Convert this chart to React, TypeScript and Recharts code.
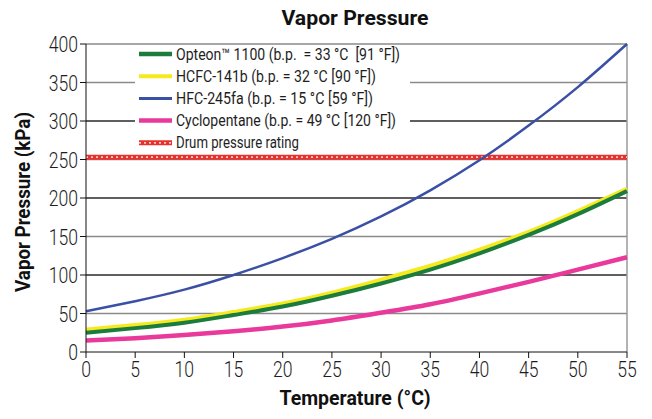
import React from 'react';
import { LineChart, Line, XAxis, YAxis, ReferenceLine } from 'recharts';

const temps = [0, 5, 10, 15, 20, 25, 30, 35, 40, 45, 50, 55];
const opteon = [25, 31, 38, 48, 59, 73, 89, 107, 128, 152, 179, 209];
const hcfc = [29, 35, 42, 52, 63, 77, 94, 112, 133, 156, 183, 212];
const hfc = [53, 66, 81, 100, 122, 147, 176, 210, 249, 294, 344, 400];
const cyclo = [15, 18, 22, 27, 33, 41, 51, 62, 76, 91, 107, 123];
const drumRating = 253;
const xTicks = [0, 5, 10, 15, 20, 25, 30, 35, 40, 45, 50, 55];
const yTicks = [0, 50, 100, 150, 200, 250, 300, 350, 400];
const gridValues = [50, 100, 150, 200, 250, 300, 350, 400];

const legendItems = [
  { label: 'Opteon\u2122 1100 (b.p. \u00A0= 33 \u00B0C \u00A0[91 \u00B0F])', color: '#1b7c3d', w: 4.5, len: 224 },
  { label: 'HCFC-141b (b.p. = 32 \u00B0C [90 \u00B0F])', color: '#f5ea1e', w: 4, len: 200 },
  { label: 'HFC-245fa (b.p. = 15 \u00B0C [59 \u00B0F])', color: '#3a50a5', w: 3, len: 197 },
  { label: 'Cyclopentane (b.p. = 49 \u00B0C [120 \u00B0F])', color: '#e9399b', w: 4.5, len: 220 },
];

const data = temps.map((t, i) => ({ t, opteon: opteon[i], hcfc: hcfc[i], hfc: hfc[i], cyclo: cyclo[i] }));

const FONT = 'Roboto, "Liberation Sans", sans-serif';
const TEXT = '#1e1e1e';

const XTick = (props: any) => {
  const { x, y, payload } = props;
  return (
    <g transform={`translate(${x},${y}) scale(0.8,1)`}>
      <text x={0} y={0} dy={17} textAnchor="middle" fontFamily={FONT} fontWeight={300} fontSize={22} fill={TEXT}>{payload.value}</text>
    </g>
  );
};

const YTick = (props: any) => {
  const { x, y, payload } = props;
  return (
    <g transform={`translate(${x},${y}) scale(0.8,1)`}>
      <text x={0} y={0} dy={8} textAnchor="end" fontFamily={FONT} fontWeight={300} fontSize={22} fill={TEXT}>{payload.value}</text>
    </g>
  );
};

const LegendOverlay = () => (
  <svg width={652} height={419} style={{ position: 'absolute', left: 0, top: 0, pointerEvents: 'none' }}>
    <rect x={135} y={46} width={275} height={102} fill="#fff" />
    {legendItems.map((it, i) => (
      <g key={it.label}>
        <line x1={139} x2={172} y1={54 + i * 22.2} y2={54 + i * 22.2} stroke={it.color} strokeWidth={it.w} />
        <text x={176} y={54 + i * 22.2 + 5.5} fontFamily={FONT} fontSize={16} fill={TEXT} textLength={it.len} lengthAdjust="spacingAndGlyphs">{it.label}</text>
      </g>
    ))}
    <line x1={139} x2={172} y1={142.8} y2={142.8} stroke="#e8302c" strokeWidth={5} />
    <line x1={139} x2={172} y1={142.8} y2={142.8} stroke="#fff" strokeWidth={1.2} strokeDasharray="2 3" />
    <text x={176} y={148.3} fontFamily={FONT} fontSize={16} fill={TEXT} textLength={123} lengthAdjust="spacingAndGlyphs">Drum pressure rating</text>
  </svg>
);

export default function App() {
  return (
    <div style={{ position: 'absolute', left: 0, top: 0, width: 652, height: 419, background: '#fff' }}>
      <LineChart width={652} height={419} data={data} margin={{ top: 44, right: 25, bottom: 37, left: 0 }}>
        <text x={355} y={25} textAnchor="middle" fontFamily={FONT} fontWeight="bold" fontSize={20} fill="#111" textLength={147} lengthAdjust="spacingAndGlyphs">Vapor Pressure</text>
        <text x={355} y={405} textAnchor="middle" fontFamily={FONT} fontWeight="bold" fontSize={21} fill="#111" textLength={151} lengthAdjust="spacingAndGlyphs">Temperature (°C)</text>
        <text x={30} y={202} textAnchor="middle" transform="rotate(-90 30 202)" fontFamily={FONT} fontWeight="bold" fontSize={21} fill="#111" textLength={180} lengthAdjust="spacingAndGlyphs">Vapor Pressure (kPa)</text>
        {gridValues.map((v) => (
          <ReferenceLine key={v} y={v} stroke={v % 100 === 0 && v !== 400 ? '#2a2a2a' : '#8a8a8a'} strokeWidth={1.4} />
        ))}
        <ReferenceLine x={55} stroke="#9a9a9a" strokeWidth={1.5} />
        <XAxis
          dataKey="t"
          type="number"
          domain={[0, 55]}
          ticks={xTicks}
          tickSize={6}
          height={30}
          stroke="#111"
          tick={<XTick />}
        />
        <YAxis
          type="number"
          domain={[0, 400]}
          ticks={yTicks}
          width={86}
          tickSize={6}
          stroke="#111"
          tick={<YTick />}
        />
        <ReferenceLine y={drumRating} stroke="#e8302c" strokeWidth={5} />
        <ReferenceLine y={drumRating} stroke="#fff" strokeWidth={1.2} strokeDasharray="2 3" />
        <Line type="natural" dataKey="cyclo" stroke="#e9399b" strokeWidth={4.5} dot={false} isAnimationActive={false} />
        <Line type="natural" dataKey="hcfc" stroke="#f5ea1e" strokeWidth={4} dot={false} isAnimationActive={false} />
        <Line type="natural" dataKey="opteon" stroke="#1b7c3d" strokeWidth={4} dot={false} isAnimationActive={false} />
        <Line type="natural" dataKey="hfc" stroke="#3a50a5" strokeWidth={2.5} dot={false} isAnimationActive={false} />
      </LineChart>
      <LegendOverlay />
    </div>
  );
}
